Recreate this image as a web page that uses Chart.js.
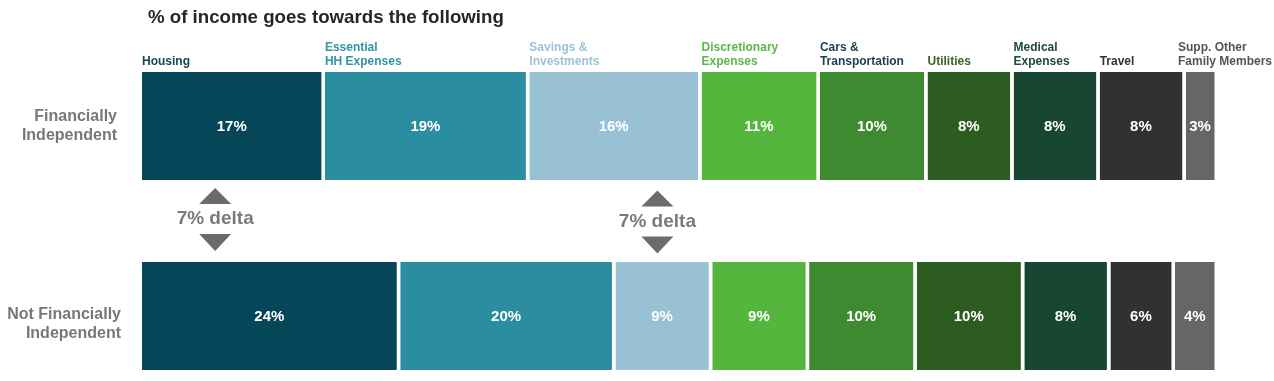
<!DOCTYPE html>
<html><head><meta charset="utf-8">
<script src="https://cdn.jsdelivr.net/npm/chart.js@4/dist/chart.umd.min.js"></script>
<style>html,body{margin:0;padding:0;background:#fff;} #wrap{width:1274px;height:381px;position:relative;}</style>
</head><body><div id="wrap"><canvas id="c" width="1274" height="381"></canvas></div>
<script>
const chartTitle = '% of income goes towards the following';
const groups = ['Financially Independent', 'Not Financially Independent'];
const groupLines = [['Financially', 'Independent'], ['Not Financially', 'Independent']];
const categories = ['Housing', 'Essential HH Expenses', 'Savings & Investments', 'Discretionary Expenses', 'Cars & Transportation', 'Utilities', 'Medical Expenses', 'Travel', 'Supp. Other Family Members'];
const categoryLines = [['Housing'], ['Essential', 'HH Expenses'], ['Savings &', 'Investments'], ['Discretionary', 'Expenses'], ['Cars &', 'Transportation'], ['Utilities'], ['Medical', 'Expenses'], ['Travel'], ['Supp. Other', 'Family Members']];
const financiallyIndependent = [17, 19, 16, 11, 10, 8, 8, 8, 3];
const notFinanciallyIndependent = [24, 20, 9, 9, 10, 10, 8, 6, 4];
const barColors = ['#054759', '#2a8ea0', '#98c1d4', '#55b63e', '#3e8a30', '#2c5c20', '#174632', '#313131', '#666666'];
const labelColors = ['#12475a', '#3394a6', '#9dc3d7', '#5cb848', '#1d3d52', '#3a6528', '#1e4a3a', '#333333', '#555555'];
const deltaCategories = [0, 2];
const deltaPositions = [6.8, 47.9];

const FONT = '"Liberation Sans", Arial, Helvetica, sans-serif';
const GAP = 3.5;

const datasets = categories.map((c, i) => ({
  label: c,
  data: [financiallyIndependent[i], notFinanciallyIndependent[i]],
  backgroundColor: barColors[i],
  borderColor: '#ffffff',
  borderWidth: {top: 0, bottom: 0, left: 0, right: GAP},
  borderSkipped: false,
  inflateAmount: 0,
  barThickness: 108,
  clip: false
}));

const textPlugin = {
  id: 'texts',
  afterDatasetsDraw(chart) {
    const ctx = chart.ctx;
    const W = chart.width;
    const ys = chart.scales.y;
    const xs = chart.scales.x;
    ctx.save();
    // title
    let fs = 19;
    ctx.font = 'bold ' + fs + 'px ' + FONT;
    const tw = ctx.measureText(chartTitle).width;
    fs = fs * 356 / tw;
    ctx.font = 'bold ' + fs.toFixed(2) + 'px ' + FONT;
    ctx.fillStyle = '#262626';
    ctx.textBaseline = 'middle';
    ctx.textAlign = 'left';
    ctx.fillText(chartTitle, 148, 18);

    // category labels above first row
    ctx.font = 'bold 12px ' + FONT;
    categories.forEach((c, i) => {
      const el = chart.getDatasetMeta(i).data[0];
      const lines = categoryLines[i];
      const maxW = Math.max(...lines.map(l => ctx.measureText(l).width));
      let x = Math.min(el.base, W - 2 - maxW);
      ctx.fillStyle = labelColors[i];
      const n = lines.length;
      lines.forEach((l, k) => {
        ctx.fillText(l, x, 62 - (n - 1 - k) * 14.7);
      });
    });

    // row labels
    const rowRight = [117, 121];
    const rowShift = [0, 8];
    ctx.font = 'bold 16px ' + FONT;
    ctx.fillStyle = '#777777';
    ctx.textAlign = 'right';
    groups.forEach((g, r) => {
      const cy = ys.getPixelForValue(r) + rowShift[r];
      const lines = groupLines[r];
      lines.forEach((l, k) => {
        ctx.fillText(l, rowRight[r], cy + (k - (lines.length - 1) / 2) * 18.5);
      });
    });

    // value labels
    ctx.font = 'bold 15px ' + FONT;
    ctx.fillStyle = '#ffffff';
    ctx.textAlign = 'center';
    chart.data.datasets.forEach((ds, i) => {
      chart.getDatasetMeta(i).data.forEach((el, r) => {
        const cx = (el.base + el.x - GAP) / 2;
        ctx.fillText(ds.data[r] + '%', cx, el.y + 1);
      });
    });

    // delta annotations
    const y0 = ys.getPixelForValue(0) + 54;
    const y1 = ys.getPixelForValue(1) - 54;
    const mid = (y0 + y1) / 2;
    deltaCategories.forEach((ci, k) => {
      const d = Math.abs(notFinanciallyIndependent[ci] - financiallyIndependent[ci]);
      const cx = xs.getPixelForValue(deltaPositions[k]);
      const off = k * 2.5;
      ctx.fillStyle = '#6b6b6b';
      ctx.beginPath();
      ctx.moveTo(cx, mid - 33 + off);
      ctx.lineTo(cx + 16, mid - 17 + off);
      ctx.lineTo(cx - 16, mid - 17 + off);
      ctx.closePath();
      ctx.fill();
      ctx.beginPath();
      ctx.moveTo(cx - 16, mid + 13 + off);
      ctx.lineTo(cx + 16, mid + 13 + off);
      ctx.lineTo(cx, mid + 30 + off);
      ctx.closePath();
      ctx.fill();
      ctx.font = 'bold 19px ' + FONT;
      ctx.fillStyle = '#7a7a7a';
      ctx.textAlign = 'center';
      ctx.fillText(d + '% delta', cx, mid - 2 + off);
    });
    ctx.restore();
  }
};

new Chart(document.getElementById('c'), {
  type: 'bar',
  data: {labels: groups, datasets: datasets},
  options: {
    responsive: false,
    animation: false,
    indexAxis: 'y',
    layout: {padding: {left: 142, right: 56, top: 126, bottom: 65}},
    scales: {
      x: {stacked: true, min: 0, max: 100, display: false},
      y: {stacked: true, display: false, offset: false}
    },
    plugins: {legend: {display: false}, tooltip: {enabled: false}, title: {display: false}}
  },
  plugins: [textPlugin]
});
</script>
</body></html>
